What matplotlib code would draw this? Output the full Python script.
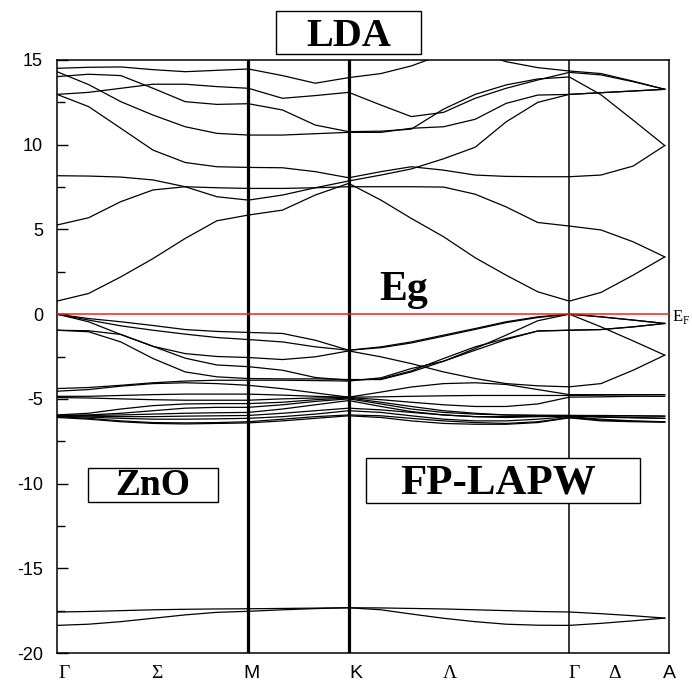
# %% Imports
import numpy as np
import matplotlib.pyplot as plt
from matplotlib.patches import Rectangle
from matplotlib.ticker import MultipleLocator

plt.rcParams['font.family'] = ['Liberation Sans', 'DejaVu Sans']

# %% Data: k-path (fraction of path) and band energies (eV)
kx = [0.000, 0.052, 0.105, 0.158, 0.211, 0.263, 0.315,   # G -> M
      0.371, 0.425, 0.480,                               # M -> K
      0.533, 0.583, 0.636, 0.688, 0.739, 0.791, 0.843,   # K -> G
      0.895, 0.948, 1.000]                               # G -> A
k_sym = [0.0, 0.315, 0.480, 0.843, 1.0]                  # G, M, K, G, A

# conduction bands
cb = [
    [0.77, 1.22, 2.20, 3.28, 4.47, 5.51, 5.85, 6.14, 7.03, 7.72,
     6.73, 5.65, 4.57, 3.33, 2.30, 1.32, 0.77, 1.28, 2.30, 3.38],
    [5.26, 5.69, 6.64, 7.33, 7.52, 7.46, 7.42, 7.42, 7.46, 7.52,
     7.52, 7.52, 7.50, 7.08, 6.33, 5.41, 5.20, 4.97, 4.27, 3.38],
    [8.17, 8.15, 8.09, 7.92, 7.52, 6.93, 6.73, 7.03, 7.46, 7.86,
     8.21, 8.57, 9.17, 9.85, 11.35, 12.50, 12.97, 13.07, 13.17, 13.27],
    [12.97, 12.25, 10.97, 9.68, 8.95, 8.70, 8.66, 8.64, 8.41, 8.05,
     8.41, 8.70, 8.50, 8.21, 8.13, 8.11, 8.11, 8.21, 8.74, 9.95],
    [14.31, 13.55, 12.54, 11.75, 11.06, 10.67, 10.57, 10.57, 10.65, 10.73,
     10.73, 10.97, 11.06, 11.50, 12.44, 12.93, 12.97, 13.07, 13.17, 13.27],
    [14.02, 14.16, 14.08, 13.33, 12.54, 12.38, 12.42, 12.05, 11.16, 10.77,
     10.80, 10.92, 12.10, 12.97, 13.53, 13.88, 14.00, 12.95, 11.45, 9.95],
    [12.97, 13.09, 13.33, 13.57, 13.57, 13.43, 13.33, 12.74, 12.90, 13.09,
     12.34, 11.66, 11.91, 12.74, 13.33, 13.82, 14.27, 14.12, 13.72, 13.27],
    [14.51, 14.57, 14.59, 14.43, 14.31, 14.39, 14.47, 14.08, 13.63, 13.96,
     14.20, 14.65, 15.35, 15.50, 14.90, 14.55, 14.35, 14.20, 13.75, 13.27],
]

# O-2p valence bands
vb_p = [
    [0.00, -0.26, -0.45, -0.67, -0.91, -1.02, -1.08, -1.14, -1.54, -2.13,
     -1.93, -1.64, -1.24, -0.85, -0.45, -0.16, 0.00, -0.16, -0.35, -0.55],
    [0.00, -0.35, -0.69, -0.95, -1.18, -1.38, -1.50, -1.64, -1.93, -2.13,
     -1.98, -1.70, -1.30, -0.90, -0.50, -0.20, 0.00, -0.75, -1.58, -2.42],
    [0.00, -0.45, -1.20, -1.90, -2.33, -2.50, -2.56, -2.68, -2.52, -2.17,
     -2.52, -2.92, -3.41, -3.80, -4.10, -4.23, -4.29, -4.10, -3.31, -2.42],
    [-0.95, -1.04, -1.64, -2.62, -3.41, -3.70, -3.80, -3.82, -3.82, -3.86,
     -3.86, -3.41, -2.78, -2.13, -1.50, -0.99, -0.95, -0.91, -0.75, -0.55],
    [-0.95, -0.98, -1.20, -1.90, -2.60, -3.00, -3.10, -3.31, -3.74, -3.90,
     -3.82, -3.35, -2.62, -1.93, -1.44, -1.00, -0.95, -0.91, -0.75, -0.55],
    [-4.39, -4.33, -4.20, -4.05, -3.95, -3.90, -3.90, -3.90, -3.92, -3.95,
     -3.76, -3.21, -2.78, -2.03, -1.24, -0.39, 0.00, -0.16, -0.35, -0.55],
]

# Zn-3d bands
vb_d = [
    [-4.55, -4.45, -4.25, -4.10, -4.05, -4.10, -4.20, -4.40, -4.65, -4.90,
     -4.60, -4.30, -4.10, -4.05, -4.15, -4.45, -4.75, -4.75, -4.75, -4.75],
    [-4.85, -4.85, -4.80, -4.75, -4.72, -4.72, -4.72, -4.78, -4.85, -4.90,
     -4.88, -4.85, -4.82, -4.80, -4.80, -4.80, -4.80, -4.78, -4.76, -4.75],
    [-4.92, -4.95, -5.00, -5.05, -5.08, -5.08, -5.08, -5.00, -4.95, -4.92,
     -5.05, -5.20, -5.35, -5.45, -5.45, -5.30, -4.90, -4.88, -4.85, -4.85],
    [-5.95, -5.85, -5.60, -5.40, -5.30, -5.28, -5.28, -5.20, -5.05, -4.95,
     -5.20, -5.45, -5.70, -5.85, -5.95, -5.98, -5.98, -5.98, -6.00, -6.02],
    [-5.97, -5.95, -5.85, -5.70, -5.55, -5.50, -5.50, -5.35, -5.15, -5.00,
     -5.30, -5.60, -5.80, -5.90, -5.95, -5.97, -5.98, -6.00, -6.00, -6.02],
    [-6.00, -5.98, -5.95, -5.90, -5.85, -5.82, -5.80, -5.60, -5.35, -5.10,
     -5.45, -5.75, -5.95, -6.05, -6.05, -6.02, -6.00, -6.05, -6.10, -6.15],
    [-6.00, -6.02, -6.05, -6.05, -6.02, -6.00, -5.98, -5.85, -5.70, -5.55,
     -5.65, -5.80, -5.95, -6.05, -6.10, -6.05, -6.02, -6.08, -6.12, -6.15],
    [-6.02, -6.08, -6.15, -6.20, -6.20, -6.18, -6.15, -6.05, -5.90, -5.70,
     -5.80, -6.00, -6.20, -6.30, -6.30, -6.20, -6.05, -6.20, -6.30, -6.35],
    [-6.05, -6.15, -6.30, -6.40, -6.42, -6.40, -6.35, -6.20, -6.05, -5.95,
     -6.00, -6.15, -6.30, -6.40, -6.45, -6.35, -6.10, -6.25, -6.32, -6.37],
    [-6.10, -6.20, -6.35, -6.45, -6.48, -6.45, -6.42, -6.30, -6.15, -6.00,
     -6.10, -6.30, -6.45, -6.50, -6.50, -6.40, -6.12, -6.30, -6.35, -6.37],
]

# O-2s bands
vb_s = [
    [-17.58, -17.55, -17.50, -17.45, -17.42, -17.40, -17.39, -17.37, -17.35, -17.33,
     -17.34, -17.37, -17.40, -17.45, -17.50, -17.55, -17.58, -17.68, -17.80, -17.94],
    [-18.37, -18.30, -18.15, -17.95, -17.75, -17.60, -17.54, -17.45, -17.38, -17.33,
     -17.45, -17.70, -17.95, -18.15, -18.30, -18.36, -18.37, -18.25, -18.10, -17.94],
]

kpt_labels = ['Γ', 'Σ', 'M', 'K', 'Λ', 'Γ', 'Δ', 'A']
kpt_label_pos = [0.011, 0.165, 0.32, 0.492, 0.647, 0.851, 0.917, 1.007]
yticks = [-20, -15, -10, -5, 0, 5, 10, 15]

# %% Figure
fig = plt.figure(figsize=(6.92, 6.88), dpi=100)
ax = fig.add_axes([57/692, 35/688, 612/692, 593/688])

for band in cb + vb_p + vb_d + vb_s:
    ax.plot(kx, band, color='black', lw=0.9)

ax.axhline(0, color='#ee2222', lw=1.1, zorder=3)
ax.axvline(k_sym[1], color='black', lw=2.3)
ax.axvline(k_sym[2], color='black', lw=2.3)
ax.axvline(k_sym[3], color='black', lw=1.1)

ax.set_xlim(0, 1)
ax.set_ylim(-20, 15)
ax.set_yticks(yticks)
ax.set_yticklabels([str(t) for t in yticks], fontsize=13)
ax.yaxis.set_minor_locator(MultipleLocator(2.5))
ax.tick_params(axis='y', which='major', direction='in', length=8, width=1, pad=10)
ax.tick_params(axis='y', which='minor', direction='in', length=5.5, width=1)
ax.set_xticks(kpt_label_pos)
ax.set_xticklabels(kpt_labels, fontsize=14)
ax.tick_params(axis='x', length=0, pad=9)
for lab in ax.get_xticklabels():
    if lab.get_text() in 'ΓΣΛΔ':
        lab.set_fontfamily('Liberation Serif')
for sp in ax.spines.values():
    sp.set_linewidth(1.1)

# %% Boxed labels
boxes = [
    ('LDA', (276, 11, 145, 43), 349, 46, 29),
    ('ZnO', (88, 468, 130, 34), 153, 495, 27),
    ('FP-LAPW', (366, 458, 274, 45), 498, 493, 31),
]
for txt, (x0, y0, w, h), tx, ty, fs in boxes:
    fig.patches.append(Rectangle((x0/692, 1 - (y0 + h)/688), w/692, h/688,
                                 transform=fig.transFigure, fc='white',
                                 ec='black', lw=1.0, zorder=2))
    fig.text(tx/692, 1 - ty/688, txt, ha='center', va='baseline', fontsize=fs,
             fontweight='bold', family='Liberation Serif', zorder=3)

fig.text(404/692, 1 - 300/688, 'Eg', ha='center', va='baseline', fontsize=30,
         fontweight='bold', family='Liberation Serif')
fig.text(672/692, 1 - 321/688, r'E$_\mathregular{F}$', ha='left', va='baseline',
         fontsize=12, family='Liberation Serif')

fig.savefig('out.png', dpi=100)
